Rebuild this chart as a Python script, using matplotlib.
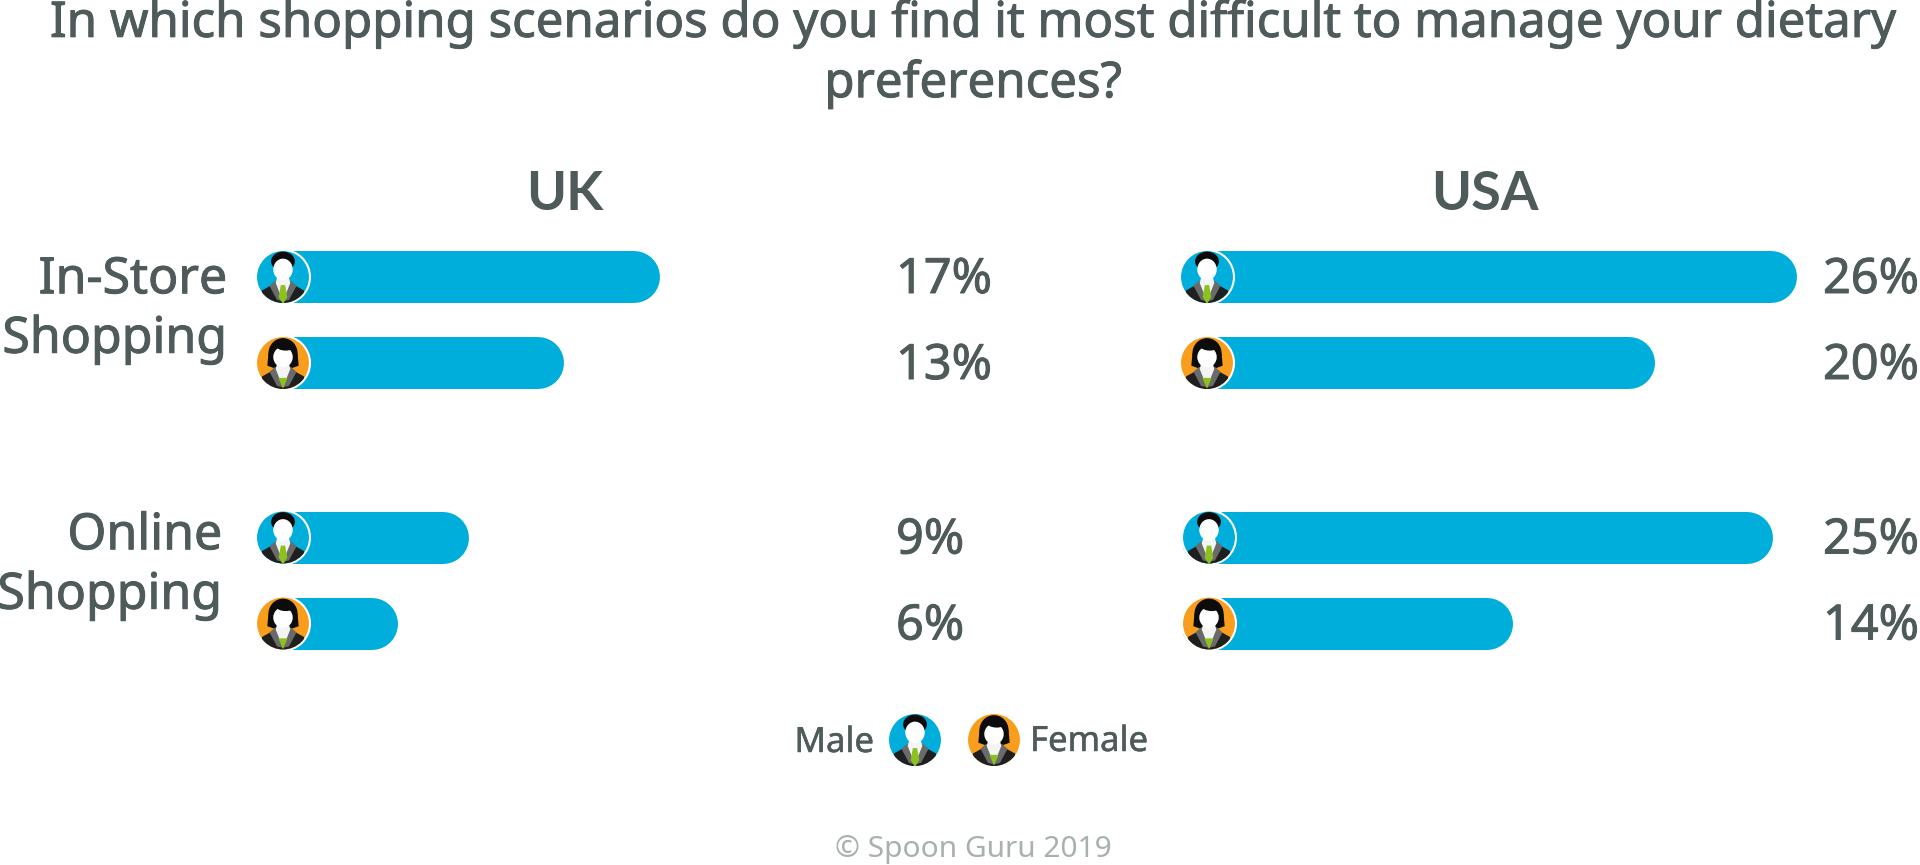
import matplotlib
matplotlib.use("Agg")
import matplotlib.pyplot as plt
import matplotlib.patches as patches
import matplotlib.patheffects as pe

title = "In which shopping scenarios do you find it most difficult to manage your dietary\npreferences?"
countries = ["UK", "USA"]
scenarios = ["In-Store\nShopping", "Online\nShopping"]
genders = ["Male", "Female"]
uk_values = [17, 13, 9, 6]
usa_values = [26, 20, 25, 14]
credit = "\u00a9 Spoon Guru 2019"

W, H = 1920, 865
DARK = "#4f5b5b"
GREY = "#a9b0b0"
BAR = "#00aedb"
ORANGE = "#f99d1c"
GREEN = "#8cc21e"
BAR_H = 52
ROW_PX = 86
GROUP_PX = 260.5

plt.rcParams["font.family"] = ["Noto Sans", "DejaVu Sans"]
fig = plt.figure(figsize=(W / 100, H / 100), dpi=100, facecolor="white")

# overlay in pixel coords, for text and icons
ov = fig.add_axes([0, 0, 1, 1], zorder=5)
ov.set_xlim(0, W)
ov.set_ylim(H, 0)
ov.axis("off")
ov.patch.set_alpha(0)

# the original font is a bit heavier than regular Noto
heavier = [pe.withStroke(linewidth=0.7, foreground=DARK)]
slight = [pe.withStroke(linewidth=0.35, foreground=DARK)]


def row_y(i):
    return 277 + ROW_PX * (i % 2) + GROUP_PX * (i // 2)


def icon(cx, cy, kind, r=27):
    bg = BAR if kind == "Male" else ORANGE
    disc = patches.Circle((cx, cy), r, fc=bg, ec="white", lw=1.5, zorder=6)
    ov.add_patch(disc)

    def add(p):
        p.set_zorder(7)
        ov.add_patch(p)
        p.set_clip_path(patches.Circle((cx, cy), r - 1, transform=ov.transData))

    def poly(pts, col):
        add(patches.Polygon([(cx + x * r, cy - y * r) for x, y in pts], fc=col, ec="none"))

    def oval(x, y, rx, ry, col):
        add(patches.Ellipse((cx + x * r, cy - y * r), 2 * rx * r, 2 * ry * r, fc=col, ec="none"))

    if kind == "Female":
        oval(0, 0.36, 0.54, 0.56, "#0c0c0c")
        poly([(-0.54, 0.36), (0.54, 0.36), (0.58, -0.1), (0.3, -0.2), (-0.3, -0.2), (-0.58, -0.1)], "#0c0c0c")
    # suit
    poly([(-0.85, -1), (-0.78, -0.5), (-0.24, -0.2), (0.24, -0.2), (0.78, -0.5), (0.85, -1)], "#1f1f1f")
    poly([(-0.3, -0.15), (-0.5, -0.33), (-0.22, -0.85), (0, -0.9), (0.22, -0.85), (0.5, -0.33), (0.3, -0.15)], "#6a6a6a")
    # shirt and neck
    poly([(-0.2, 0.05), (0.2, 0.05), (0.27, -0.22), (0, -0.9), (-0.27, -0.22)], "#f4f4f4")
    if kind == "Male":
        poly([(-0.08, -0.3), (0.08, -0.3), (0.16, -0.75), (0, -1), (-0.16, -0.75)], GREEN)
        oval(0, 0.58, 0.44, 0.36, "#0c0c0c")
        oval(0, 0.28, 0.36, 0.4, "white")
    else:
        poly([(-0.17, -0.55), (0.17, -0.55), (0, -0.95)], GREEN)
        oval(0, 0.22, 0.36, 0.38, "white")
        oval(0.1, 0.62, 0.34, 0.16, "#0c0c0c")


def bars(values, zero_px, right_px, icon_x, px_per_pct):
    ax = fig.add_axes([zero_px / W, 0, (right_px - zero_px) / W, 1], zorder=1)
    ax.set_xlim(0, (right_px - zero_px) / px_per_pct)
    ax.set_ylim(H, 0)
    ax.axis("off")
    cap = BAR_H / 2 / px_per_pct
    for i, v in enumerate(values):
        y = row_y(i)
        x0 = (icon_x - zero_px) / px_per_pct
        ax.plot([x0, v - cap], [y, y], color=BAR, lw=BAR_H * 0.72, solid_capstyle="round")
        icon(icon_x + (2 if i > 1 and icon_x > 1000 else 0), y, genders[i % 2])
    return ax


bars(uk_values, 255, 900, 283, 23.8)
bars(usa_values, 1183, 1820, 1207, 23.6)

# title and headers
ov.text(973, 54, title, ha="center", va="center", fontsize=35.4, color=DARK, linespacing=1.27, path_effects=heavier)
ov.text(565, 194, countries[0], ha="center", va="center", fontsize=39, fontweight="bold", family="Lato", color=DARK)
ov.text(1485, 194, countries[1], ha="center", va="center", fontsize=39, fontweight="bold", family="Lato", color=DARK)

# scenario labels
ov.text(227, 310, scenarios[0], ha="right", va="center", fontsize=36, color=DARK, linespacing=1.25, path_effects=heavier)
ov.text(222, 566, scenarios[1], ha="right", va="center", fontsize=36, color=DARK, linespacing=1.25, path_effects=heavier)

# value labels
for i, v in enumerate(uk_values):
    ov.text(896, row_y(i) + 3, f"{v}%", ha="left", va="center", fontsize=35, color=DARK, path_effects=heavier)
for i, v in enumerate(usa_values):
    ov.text(1823, row_y(i) + 3, f"{v}%", ha="left", va="center", fontsize=35, color=DARK, path_effects=heavier)

# legend
ov.text(874, 743, genders[0], ha="right", va="center", fontsize=25, color=DARK, path_effects=slight)
icon(915, 740, genders[0])
icon(994, 740, genders[1])
ov.text(1030, 742, genders[1], ha="left", va="center", fontsize=25, color=DARK, path_effects=slight)

ov.text(973, 850, credit, ha="center", va="center", fontsize=21.5, color=GREY)

fig.savefig("out.png", dpi=100)
